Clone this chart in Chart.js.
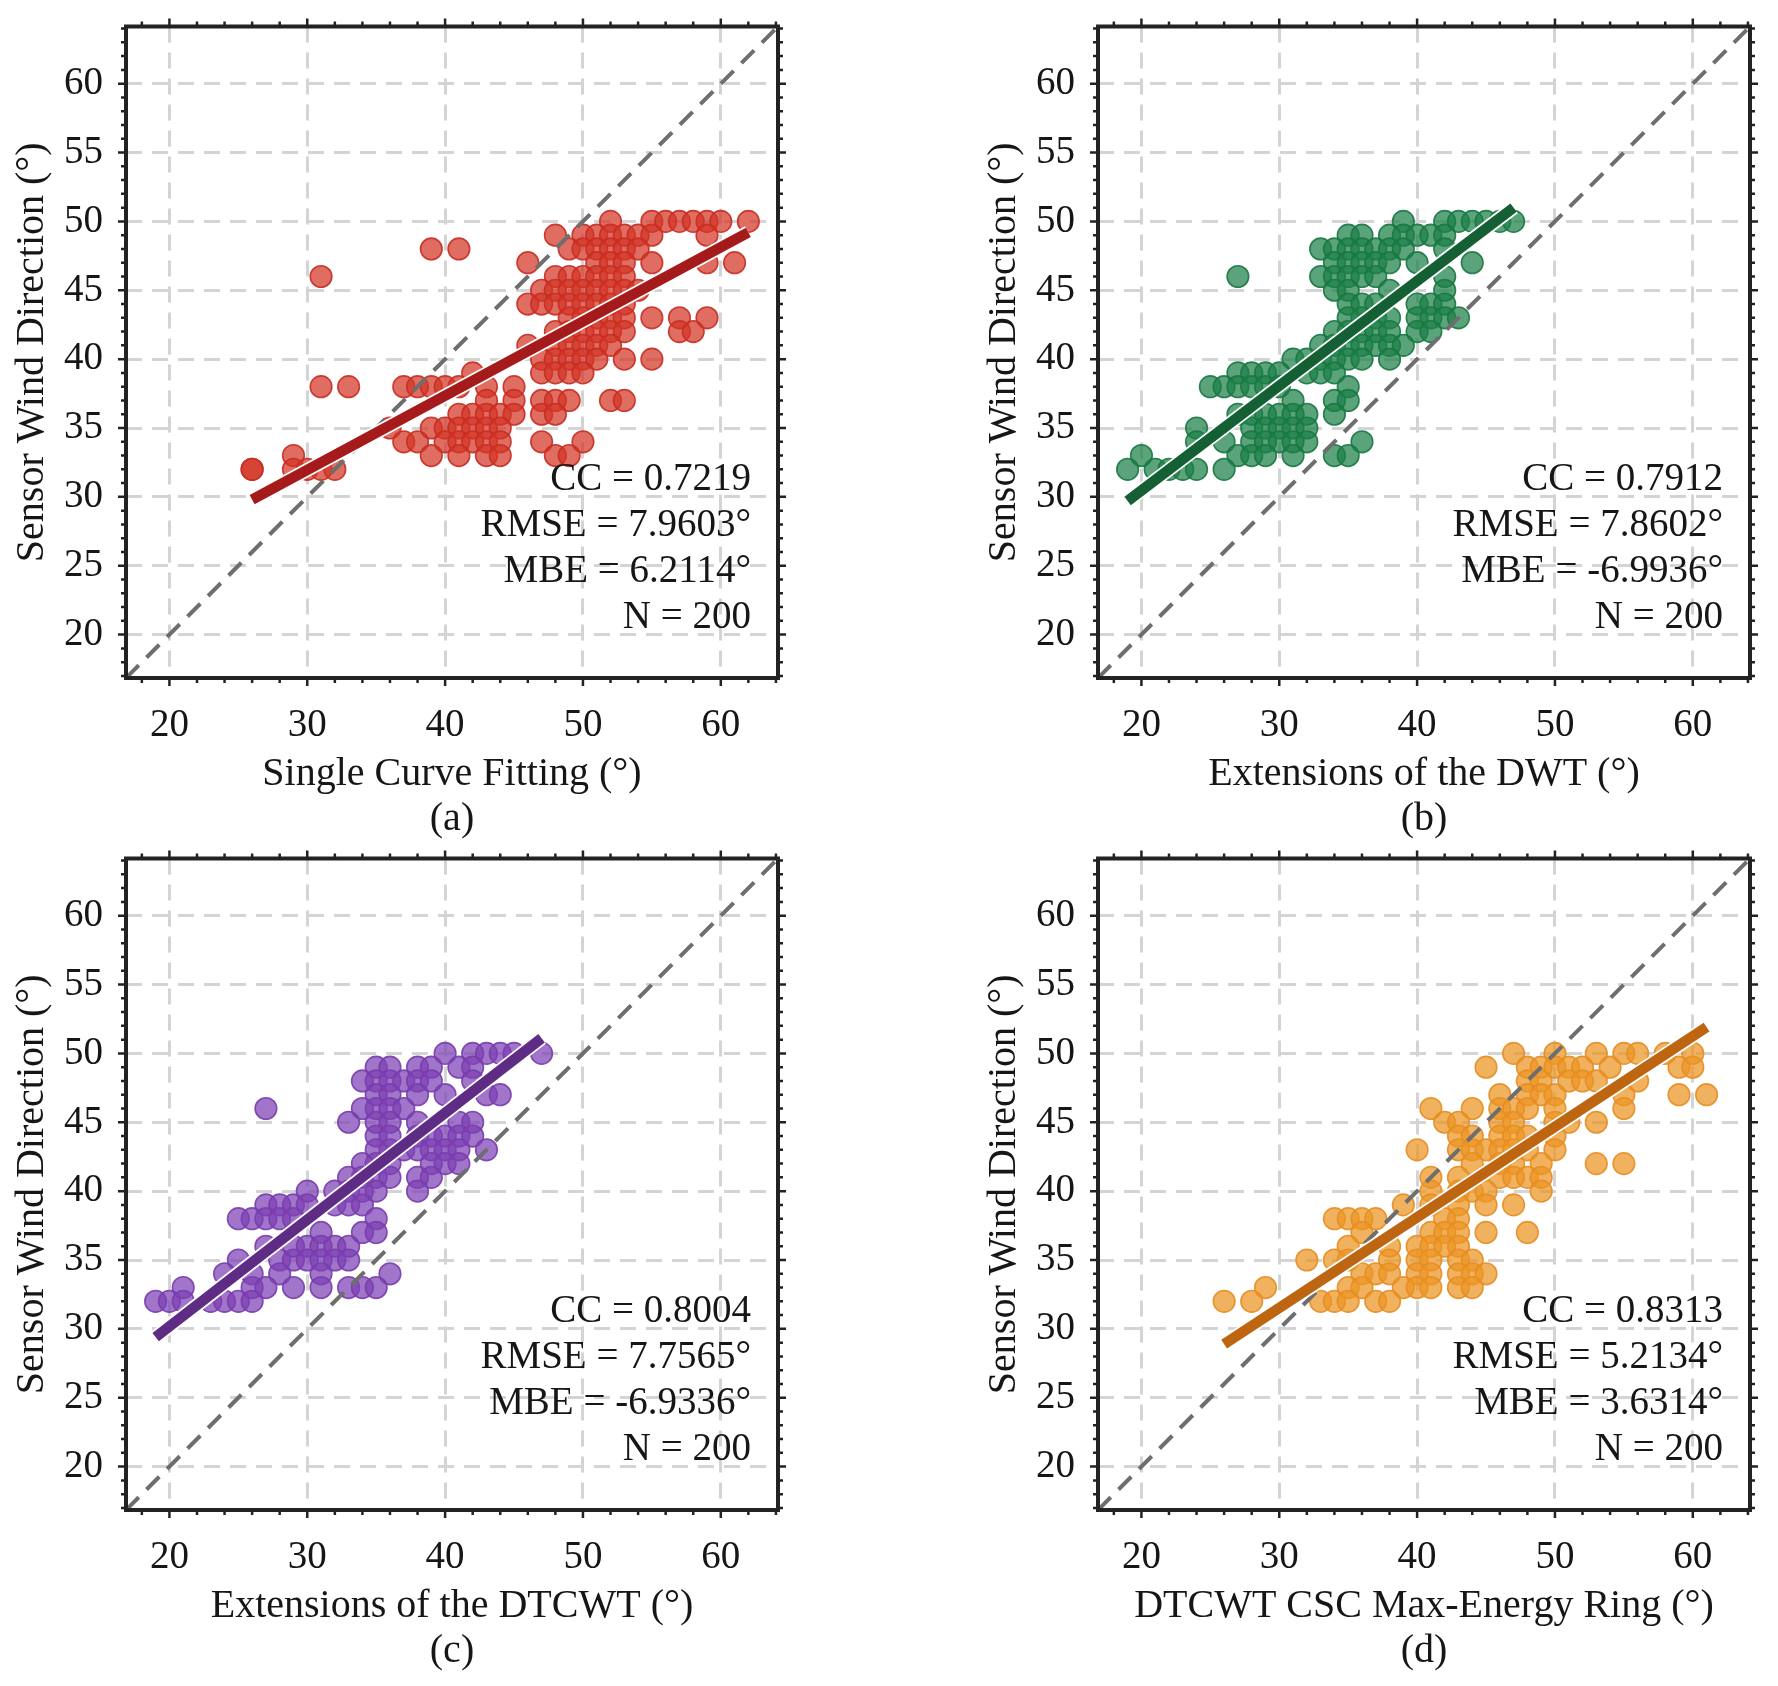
<!DOCTYPE html>
<html lang="en">
<head>
<meta charset="UTF-8">
<title>Sensor Wind Direction Comparison</title>
<script src="https://cdn.jsdelivr.net/npm/chart.js"></script>
<style>
    body { margin: 0; background: #fff; }
    .wrap { position: relative; width: 1778px; height: 1686px; }
    canvas { position: absolute; }
</style>
</head>
<body>
<div class="wrap">
    <canvas id="chartA" width="806" height="843" style="left:0;top:0"></canvas>
    <canvas id="chartB" width="806" height="843" style="left:972px;top:0"></canvas>
    <canvas id="chartC" width="806" height="843" style="left:0;top:832px"></canvas>
    <canvas id="chartD" width="806" height="843" style="left:972px;top:832px"></canvas>
</div>

<script>
// tick labels and axis range (same for all four panels)
const xTicks = [20, 30, 40, 50, 60];
const yTicks = [20, 25, 30, 35, 40, 45, 50, 55, 60];
const axisMin = 16.85;
const axisMax = 64.15;

// points are read row by row: one list of x values per sensor level
const yLevels = [50, 49, 48, 47, 46, 45, 44, 43, 42, 41, 40, 39, 38, 37, 36, 35, 34, 33, 32];

const aXByLevel = [
    [52, 55, 56, 57, 58, 59, 60, 62],
    [48, 50, 51, 52, 53, 54, 55, 59],
    [39, 41, 49, 50, 51, 52, 53, 54],
    [46, 51, 52, 53, 55, 59, 61],
    [31, 48, 49, 50, 51, 52, 53],
    [47, 48, 49, 50, 51, 52, 53, 54],
    [46, 47, 48, 49, 50, 51, 52, 53],
    [49, 50, 51, 52, 53, 55, 57, 59],
    [48, 49, 50, 51, 52, 53, 57, 58],
    [46, 48, 49, 50, 51, 52],
    [47, 48, 49, 50, 51, 53, 55],
    [42, 47, 48, 49, 50],
    [31, 33, 37, 38, 39, 40, 41, 43, 45],
    [43, 45, 47, 48, 49, 52, 53],
    [41, 42, 43, 44, 45, 47, 48],
    [36, 39, 40, 41, 42, 43, 44],
    [37, 38, 40, 41, 42, 43, 44, 47, 50],
    [29, 39, 41, 43, 44, 48, 49],
    [26, 26, 29, 30, 31, 32]
];
const bXByLevel = [
    [39, 42, 43, 44, 45, 46, 47],
    [35, 36, 38, 39, 40, 41, 42],
    [33, 34, 35, 36, 37, 38, 39, 42],
    [34, 35, 36, 37, 38, 40, 44],
    [27, 33, 34, 35, 36, 37, 42],
    [34, 35, 38, 42],
    [35, 36, 37, 40, 41, 42],
    [35, 36, 37, 38, 40, 41, 42, 43],
    [34, 35, 36, 37, 38, 40, 41],
    [33, 34, 35, 36, 37, 38, 39],
    [31, 32, 33, 34, 35, 36, 38],
    [27, 28, 29, 30, 32, 33, 34],
    [25, 26, 27, 28, 29, 30, 35],
    [31, 34, 35],
    [27, 28, 29, 30, 31, 32, 34],
    [24, 28, 29, 30, 31, 32],
    [24, 26, 28, 29, 30, 31, 32, 36],
    [20, 27, 28, 29, 31, 34, 35],
    [19, 21, 22, 23, 24, 26]
];
const cXByLevel = [
    [40, 42, 43, 44, 45, 47],
    [35, 36, 38, 39, 41, 42],
    [34, 35, 36, 37, 38, 39, 42],
    [35, 36, 38, 40, 43, 44],
    [27, 34, 35, 36, 37],
    [33, 35, 36, 38, 41, 42],
    [35, 36, 38, 39, 40, 41, 42],
    [35, 36, 37, 38, 39, 40, 41, 43],
    [34, 35, 36, 39, 40, 41],
    [33, 34, 35, 36, 38, 39],
    [30, 32, 33, 34, 35, 38],
    [27, 28, 29, 30, 32, 33, 34],
    [25, 26, 27, 28, 29, 35],
    [31, 34, 35],
    [27, 29, 30, 31, 32, 33],
    [25, 28, 29, 30, 31, 32, 33],
    [24, 26, 28, 31, 36],
    [21, 26, 27, 29, 31, 33, 34, 35],
    [19, 20, 21, 23, 24, 25, 26]
];
const dXByLevel = [
    [47, 50, 53, 55, 56, 58, 60],
    [45, 48, 49, 50, 51, 52, 54, 59, 60],
    [48, 49, 51, 52, 53, 56],
    [46, 48, 49, 50, 55, 59, 61],
    [41, 44, 46, 47, 48, 50, 55],
    [42, 43, 46, 47, 50, 51, 53],
    [43, 44, 46, 47, 48, 50],
    [40, 43, 44, 45, 46, 47, 48, 50],
    [44, 46, 47, 49, 53, 55],
    [41, 43, 46, 47, 48, 49],
    [41, 43, 44, 45, 49],
    [39, 41, 43, 45, 47],
    [34, 35, 36, 37, 42, 43],
    [36, 41, 42, 43, 45, 48],
    [35, 38, 40, 41, 42, 43],
    [32, 34, 35, 38, 40, 41, 43, 44],
    [36, 37, 38, 40, 41, 43, 44, 45],
    [29, 35, 36, 39, 40, 41, 43, 44],
    [26, 28, 33, 34, 35, 37, 38]
];

// fitted regression lines, end points
const aFitX = [26, 62], aFitY = [29.8, 49.2];
const bFitX = [19, 47], bFitY = [29.7, 51.0];
const cFitX = [19, 47], cFitY = [29.4, 51.1];
const dFitX = [26, 61], dFitY = [28.9, 51.9];

const xTitles = ['Single Curve Fitting (°)', 'Extensions of the DWT (°)',
                 'Extensions of the DTCWT (°)', 'DTCWT CSC Max-Energy Ring (°)'];
const panelLabels = ['(a)', '(b)', '(c)', '(d)'];
const yTitle = 'Sensor Wind Direction (°)';

const aStats = ['CC = 0.7219', 'RMSE = 7.9603°', 'MBE = 6.2114°', 'N = 200'];
const bStats = ['CC = 0.7912', 'RMSE = 7.8602°', 'MBE = -6.9936°', 'N = 200'];
const cStats = ['CC = 0.8004', 'RMSE = 7.7565°', 'MBE = -6.9336°', 'N = 200'];
const dStats = ['CC = 0.8313', 'RMSE = 5.2134°', 'MBE = 3.6314°', 'N = 200'];

const FONT = '"Liberation Serif", "Times New Roman", serif';
const INK = '#161616';

function toPoints(xByLevel) {
    return xByLevel.flatMap((xs, i) => xs.map(x => ({ x: x, y: yLevels[i] })));
}
function toLine(xs, ys) {
    return xs.map((x, i) => ({ x: x, y: ys[i] }));
}
// keep the plot box where it is: no extra room for edge labels
function noEdgePadding(s) {
    s.paddingTop = 0;
    s.paddingBottom = 0;
    s.paddingLeft = 0;
    s.paddingRight = 0;
}

// box, minor/major ticks and the stats text
const framePlugin = {
    id: 'frame',
    afterDraw(chart, args, opts) {
        const { ctx, chartArea: a, scales: { x, y } } = chart;
        ctx.save();
        ctx.strokeStyle = '#222';
        ctx.lineWidth = 2.5;
        ctx.beginPath();
        for (let v = 18; v <= axisMax; v += 2) {
            const px = x.getPixelForValue(v);
            const len = xTicks.includes(v) ? 8 : 5;
            ctx.moveTo(px, a.bottom); ctx.lineTo(px, a.bottom + len);
            ctx.moveTo(px, a.top); ctx.lineTo(px, a.top - len);
        }
        for (let v = 17; v <= axisMax; v += 1) {
            const py = y.getPixelForValue(v);
            const len = yTicks.includes(v) ? 8 : 5;
            ctx.moveTo(a.left, py); ctx.lineTo(a.left - len, py);
            ctx.moveTo(a.right, py); ctx.lineTo(a.right + len, py);
        }
        ctx.stroke();
        ctx.lineWidth = 4;
        ctx.strokeRect(a.left, a.top, a.right - a.left, a.bottom - a.top);

        ctx.fillStyle = INK;
        ctx.font = '39px ' + FONT;
        ctx.textAlign = 'right';
        ctx.textBaseline = 'middle';
        opts.lines.forEach((t, i) => ctx.fillText(t, a.right - 27, a.top + 453.5 + i * 46));
        ctx.restore();
    }
};

function makePanel(id, xByLevel, fitX, fitY, stats, idx, fill, edge, fitColor) {
    const ctx = document.getElementById(id).getContext('2d');
    return new Chart(ctx, {
        type: 'scatter',
        data: {
            datasets: [
                {
                    type: 'line',
                    data: toLine(fitX, fitY),
                    borderColor: fitColor,
                    borderWidth: 10.5,
                    pointRadius: 0,
                    showLine: true,
                    order: 0
                },
                {
                    type: 'line',
                    data: toLine(fitX, fitY),
                    borderColor: '#ffffff',
                    borderWidth: 14,
                    pointRadius: 0,
                    showLine: true,
                    order: 1
                },
                {
                    type: 'line',
                    data: toLine([axisMin, axisMax], [axisMin, axisMax]),
                    borderColor: '#6e6e6e',
                    borderWidth: 4,
                    borderDash: [18, 11],
                    pointRadius: 0,
                    showLine: true,
                    order: 2
                },
                {
                    data: toPoints(xByLevel),
                    backgroundColor: fill,
                    borderColor: edge,
                    borderWidth: 1.6,
                    pointRadius: 10.8,
                    pointHoverRadius: 10.8,
                    order: 3
                }
            ]
        },
        options: {
            responsive: false,
            animation: false,
            layout: { padding: { left: 0, top: 26.5, right: 28, bottom: 1.5 } },
            plugins: {
                legend: { display: false },
                tooltip: { enabled: false },
                frame: { lines: stats }
            },
            scales: {
                x: {
                    type: 'linear',
                    min: axisMin,
                    max: axisMax,
                    afterBuildTicks: s => { s.ticks = xTicks.map(v => ({ value: v })); },
                    afterFit: s => { s.height = 163.5; noEdgePadding(s); },
                    ticks: {
                        font: { family: FONT, size: 39 },
                        color: INK,
                        padding: 24,
                        maxRotation: 0,
                        autoSkip: false
                    },
                    grid: { color: '#d4d4d4', lineWidth: 3, drawTicks: false },
                    border: { display: false, dash: [16, 10] },
                    title: {
                        display: true,
                        text: [xTitles[idx], panelLabels[idx]],
                        font: { family: FONT, size: 40, lineHeight: 1.125 },
                        color: INK,
                        padding: { top: 0, bottom: 0 }
                    }
                },
                y: {
                    type: 'linear',
                    min: axisMin,
                    max: axisMax,
                    afterBuildTicks: s => { s.ticks = yTicks.map(v => ({ value: v })); },
                    afterFit: s => { s.width = 126; noEdgePadding(s); },
                    ticks: {
                        font: { family: FONT, size: 39 },
                        color: INK,
                        padding: 23,
                        autoSkip: false
                    },
                    grid: { color: '#d4d4d4', lineWidth: 3, drawTicks: false },
                    border: { display: false, dash: [16, 10] },
                    title: {
                        display: true,
                        text: yTitle,
                        font: { family: FONT, size: 40 },
                        color: INK,
                        padding: { top: 8, bottom: 0 }
                    }
                }
            }
        },
        plugins: [framePlugin]
    });
}

makePanel('chartA', aXByLevel, aFitX, aFitY, aStats, 0,
          'rgba(210, 52, 38, 0.72)', 'rgba(200, 45, 35, 0.9)', '#a51b1b');
makePanel('chartB', bXByLevel, bFitX, bFitY, bStats, 1,
          'rgba(28, 128, 70, 0.72)', 'rgba(26, 120, 66, 0.9)', '#145f33');
makePanel('chartC', cXByLevel, cFitX, cFitY, cStats, 2,
          'rgba(125, 64, 180, 0.72)', 'rgba(120, 62, 172, 0.9)', '#5e2c84');
makePanel('chartD', dXByLevel, dFitX, dFitY, dStats, 3,
          'rgba(236, 148, 34, 0.72)', 'rgba(230, 142, 36, 0.9)', '#be6512');
</script>
</body>
</html>
